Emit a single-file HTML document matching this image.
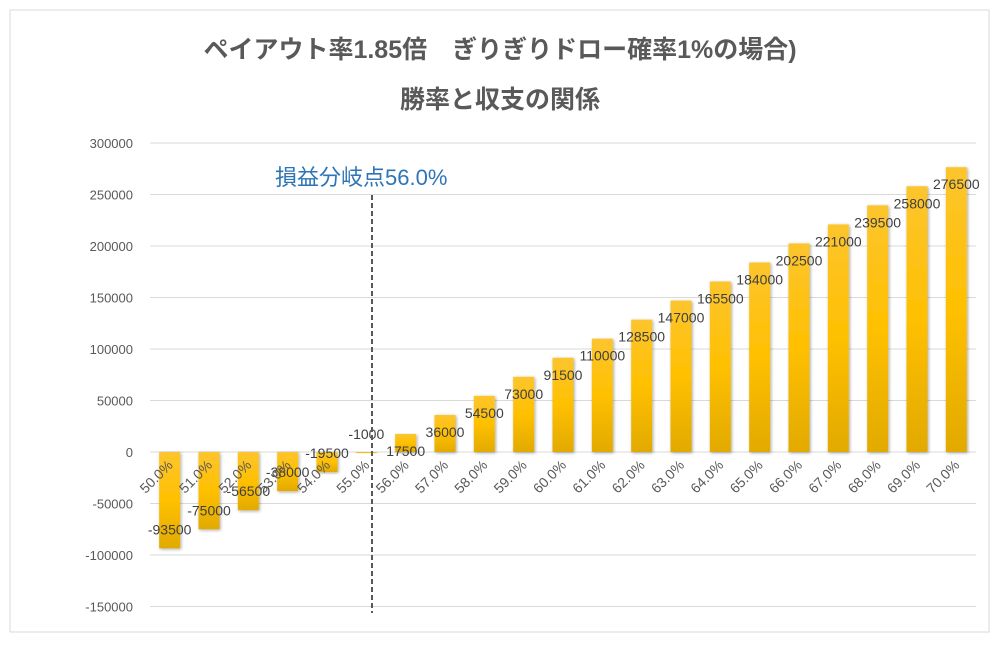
<!DOCTYPE html>
<html><head><meta charset="utf-8">
<style>
body{margin:0;background:#fff;}
svg{display:block;font-family:"Liberation Sans","Noto Sans CJK JP",sans-serif;}
</style></head>
<body>
<svg id="chart" width="1000" height="645">
<defs>
<linearGradient id="barGrad" x1="0" y1="0" x2="0" y2="1">
<stop offset="0" stop-color="#fcc52e"/><stop offset="0.5" stop-color="#ffc000"/><stop offset="1" stop-color="#e2aa00"/>
</linearGradient>
<filter id="sh" x="-30%" y="-10%" width="160%" height="120%"><feGaussianBlur in="SourceAlpha" stdDeviation="1.5"/><feOffset dx="1" dy="1"/><feComponentTransfer><feFuncA type="linear" slope="0.35"/></feComponentTransfer><feMerge><feMergeNode/><feMergeNode in="SourceGraphic"/></feMerge></filter>
</defs>
<rect x="10" y="10" width="979" height="622" fill="#fff" stroke="#d9d9d9"/>
<text x="500" y="58" text-anchor="middle" font-size="25" font-weight="bold" fill="#595959">ペイアウト率1.85倍　ぎりぎりドロー確率1%の場合)</text>
<text x="500" y="108" text-anchor="middle" font-size="25" font-weight="bold" fill="#595959">勝率と収支の関係</text>
<g id="grid"></g><g id="bars"></g><g id="labels"></g>
<line x1="372" y1="195" x2="372" y2="613" stroke="#595959" stroke-width="2" stroke-dasharray="5,3"/>
<text x="275" y="185" font-size="22" fill="#2e75b6">損益分岐点56.0%</text>
</svg>
<script>
const categories=["50.0%","51.0%","52.0%","53.0%","54.0%","55.0%","56.0%","57.0%","58.0%","59.0%","60.0%","61.0%","62.0%","63.0%","64.0%","65.0%","66.0%","67.0%","68.0%","69.0%","70.0%"];
const values=[-93500,-75000,-56500,-38000,-19500,-1000,17500,36000,54500,73000,91500,110000,128500,147000,165500,184000,202500,221000,239500,258000,276500];
const yTicks=[300000,250000,200000,150000,100000,50000,0,-50000,-100000,-150000];
const NS="http://www.w3.org/2000/svg";
const yMin=-150000,yMax=300000,pTop=143,pBot=606.5,pLeft=150,pRight=976;
function y(v){return pBot-(v-yMin)/(yMax-yMin)*(pBot-pTop);}
const step=(pRight-pLeft)/categories.length;
function x(i){return pLeft+step*(i+0.5);}
function mk(t,a,parent){const e=document.createElementNS(NS,t);for(const k in a)e.setAttribute(k,a[k]);document.getElementById(parent).appendChild(e);return e;}
yTicks.forEach(t=>{
 const l=mk("line",{x1:pLeft,x2:pRight,y1:y(t),y2:y(t),stroke:"#d9d9d9","stroke-width":1},"grid");
 
 
 const tx=mk("text",{x:133,y:y(t)+5,"text-anchor":"end","font-size":13,fill:"#595959"},"grid");
 tx.textContent=t;
 
 
});
const bw=21;
values.forEach((v,i)=>{
 const cx=x(i),y0=y(0),y1=y(v);
 const r=mk("rect",{x:cx-bw/2,y:Math.min(y0,y1),width:bw,height:Math.max(1,Math.abs(y1-y0)),fill:"url(#barGrad)",filter:"url(#sh)"},"bars");
 
 
 const ly=v>=0?y1+22:y1-14;
 const t=mk("text",{x:cx,y:ly,"text-anchor":"middle","font-size":14,fill:"#404040"},"labels");
 t.textContent=v;
 
 
 const c=mk("text",{x:cx+4,y:y0+14,"text-anchor":"end","font-size":14,fill:"#595959",transform:"rotate(-45 "+(cx+4)+" "+(y0+14)+")"},"labels");
 c.textContent=categories[i];
 
 
});
</script>
</body></html>
